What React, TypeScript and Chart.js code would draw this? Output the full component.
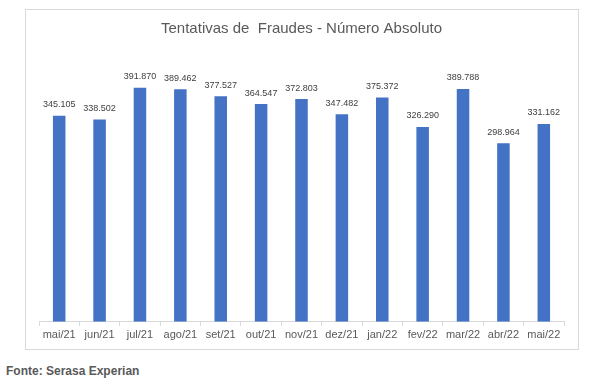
import React, { useEffect, useRef } from "react";
import { Chart, registerables } from "chart.js";

Chart.register(...registerables);

const categories = ["mai/21", "jun/21", "jul/21", "ago/21", "set/21", "out/21", "nov/21", "dez/21", "jan/22", "fev/22", "mar/22", "abr/22", "mai/22"];
const values = [345105, 338502, 391870, 389462, 377527, 364547, 372803, 347482, 375372, 326290, 389788, 298964, 331162];
const titleText = "Tentativas de  Fraudes - Número Absoluto";
const sourceText = "Fonte: Serasa Experian";

const FONT = "'Liberation Sans', Arial, sans-serif";

const fmt = (v: number) => String(v).replace(/\B(?=(\d{3})+(?!\d))/g, ".");

const labelPlugin = {
  id: "barLabels",
  afterDatasetsDraw(chart: any) {
    const ctx = chart.ctx;
    const meta = chart.getDatasetMeta(0);
    ctx.save();
    ctx.font = `9px ${FONT}`;
    ctx.fillStyle = "#404040";
    ctx.textAlign = "center";
    ctx.textBaseline = "middle";
    meta.data.forEach((el: any, i: number) => {
      ctx.fillText(fmt(values[i]), el.x, el.y - 11);
    });
    ctx.restore();
  },
};

export default function App() {
  const ref = useRef<HTMLCanvasElement>(null);
  useEffect(() => {
    if (!ref.current) return;
    const chart = new Chart(ref.current, {
      type: "bar",
      data: {
        labels: categories,
        datasets: [
          {
            data: values,
            backgroundColor: "#4472C4",
            barPercentage: 0.31,
            categoryPercentage: 1,
          },
        ],
      },
      options: {
        animation: false,
        responsive: false,
        maintainAspectRatio: false,
        layout: { padding: { top: 0, left: 13, right: 14, bottom: 4 } },
        plugins: {
          legend: { display: false },
          tooltip: { enabled: false },
          title: {
            display: true,
            text: titleText,
            color: "#595959",
            font: { family: FONT, size: 15, weight: "normal" },
            padding: { top: 10, bottom: 15 },
          },
        },
        scales: {
          y: { display: false, min: 0, max: 450000 },
          x: {
            grid: {
              display: true,
              drawOnChartArea: false,
              drawTicks: true,
              tickLength: 4,
              color: "#d9d9d9",
              offset: true,
            },
            border: { display: true, color: "#d9d9d9" },
            ticks: {
              color: "#595959",
              font: { family: FONT, size: 11 },
              padding: 3,
              maxRotation: 0,
              autoSkip: false,
            },
          },
        },
      },
      plugins: [labelPlugin],
    });
    return () => chart.destroy();
  }, []);

  return (
    <div style={{ position: "absolute", left: 0, top: 0, width: 591, height: 387, background: "#fff" }}>
      <div
        style={{
          position: "absolute",
          left: 25,
          top: 9,
          width: 552,
          height: 339,
          border: "1px solid #d9d9d9",
        }}
      >
        <canvas ref={ref} width={552} height={339} style={{ display: "block", width: 552, height: 339 }} />
      </div>
      <div
        style={{
          position: "absolute",
          left: 6,
          top: 363,
          fontFamily: FONT,
          fontWeight: "bold",
          fontSize: 12,
          lineHeight: "16px",
          color: "#595959",
          whiteSpace: "pre",
        }}
      >
        {sourceText}
      </div>
    </div>
  );
}
